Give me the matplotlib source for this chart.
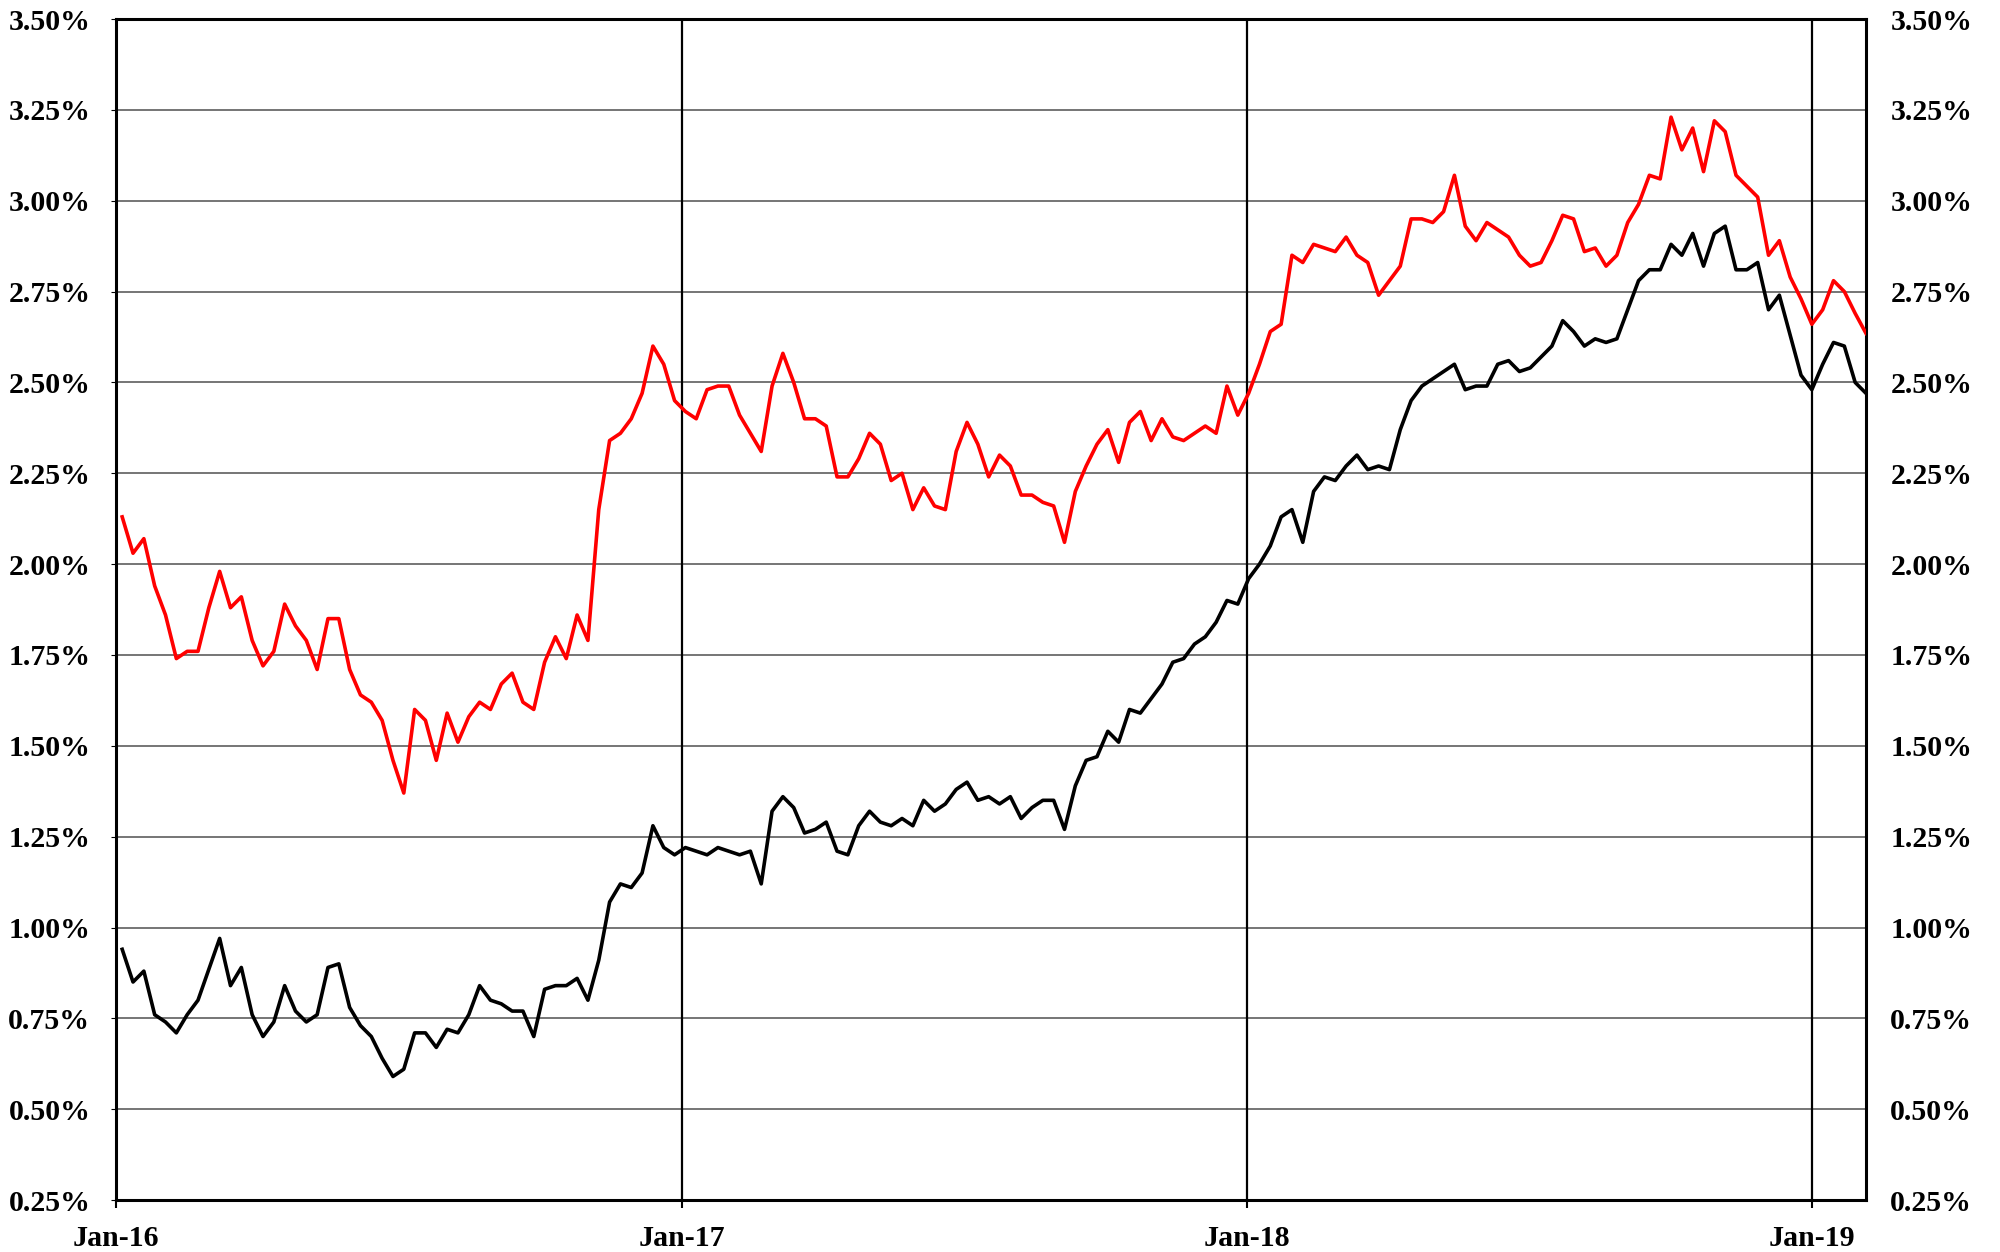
import numpy as np
import pandas as pd
import matplotlib
matplotlib.use("Agg")
import matplotlib.pyplot as plt
import matplotlib.dates as mdates

# weekly readings, first Tuesday of 2016 through early Feb 2019
start_date = "2016-01-05"

red_line = [2.13, 2.03, 2.07, 1.94, 1.86, 1.74, 1.76, 1.76, 1.88, 1.98,
            1.88, 1.91, 1.79, 1.72, 1.76, 1.89, 1.83, 1.79, 1.71, 1.85,
            1.85, 1.71, 1.64, 1.62, 1.57, 1.46, 1.37, 1.60, 1.57, 1.46,
            1.59, 1.51, 1.58, 1.62, 1.60, 1.67, 1.70, 1.62, 1.60, 1.73,
            1.80, 1.74, 1.86, 1.79, 2.15, 2.34, 2.36, 2.40, 2.47, 2.60,
            2.55, 2.45, 2.42, 2.40, 2.48, 2.49, 2.49, 2.41, 2.36, 2.31,
            2.49, 2.58, 2.50, 2.40, 2.40, 2.38, 2.24, 2.24, 2.29, 2.36,
            2.33, 2.23, 2.25, 2.15, 2.21, 2.16, 2.15, 2.31, 2.39, 2.33,
            2.24, 2.30, 2.27, 2.19, 2.19, 2.17, 2.16, 2.06, 2.20, 2.27,
            2.33, 2.37, 2.28, 2.39, 2.42, 2.34, 2.40, 2.35, 2.34, 2.36,
            2.38, 2.36, 2.49, 2.41, 2.47, 2.55, 2.64, 2.66, 2.85, 2.83,
            2.88, 2.87, 2.86, 2.90, 2.85, 2.83, 2.74, 2.78, 2.82, 2.95,
            2.95, 2.94, 2.97, 3.07, 2.93, 2.89, 2.94, 2.92, 2.90, 2.85,
            2.82, 2.83, 2.89, 2.96, 2.95, 2.86, 2.87, 2.82, 2.85, 2.94,
            2.99, 3.07, 3.06, 3.23, 3.14, 3.20, 3.08, 3.22, 3.19, 3.07,
            3.04, 3.01, 2.85, 2.89, 2.79, 2.73, 2.66, 2.70, 2.78, 2.75,
            2.69, 2.635]

black_line = [0.94, 0.85, 0.88, 0.76, 0.74, 0.71, 0.76, 0.80, 0.885, 0.97,
              0.84, 0.89, 0.76, 0.70, 0.74, 0.84, 0.77, 0.74, 0.76, 0.89,
              0.90, 0.78, 0.73, 0.70, 0.64, 0.59, 0.61, 0.71, 0.71, 0.67,
              0.72, 0.71, 0.76, 0.84, 0.80, 0.79, 0.77, 0.77, 0.70, 0.83,
              0.84, 0.84, 0.86, 0.80, 0.91, 1.07, 1.12, 1.11, 1.15, 1.28,
              1.22, 1.20, 1.22, 1.21, 1.20, 1.22, 1.21, 1.20, 1.21, 1.12,
              1.32, 1.36, 1.33, 1.26, 1.27, 1.29, 1.21, 1.20, 1.28, 1.32,
              1.29, 1.28, 1.30, 1.28, 1.35, 1.32, 1.34, 1.38, 1.40, 1.35,
              1.36, 1.34, 1.36, 1.30, 1.33, 1.35, 1.35, 1.27, 1.39, 1.46,
              1.47, 1.54, 1.51, 1.60, 1.59, 1.63, 1.67, 1.73, 1.74, 1.78,
              1.80, 1.84, 1.90, 1.89, 1.96, 2.00, 2.05, 2.13, 2.15, 2.06,
              2.20, 2.24, 2.23, 2.27, 2.30, 2.26, 2.27, 2.26, 2.37, 2.45,
              2.49, 2.51, 2.53, 2.55, 2.48, 2.49, 2.49, 2.55, 2.56, 2.53,
              2.54, 2.57, 2.60, 2.67, 2.64, 2.60, 2.62, 2.61, 2.62, 2.70,
              2.78, 2.81, 2.81, 2.88, 2.85, 2.91, 2.82, 2.91, 2.93, 2.81,
              2.81, 2.83, 2.70, 2.74, 2.63, 2.52, 2.48, 2.55, 2.61, 2.60,
              2.50, 2.47]

year_marks = ["2016-01-01", "2017-01-01", "2018-01-01", "2019-01-01"]
x_end = "2019-02-05"
y_ticks = np.arange(0.25, 3.51, 0.25)
y_labels = [f"{v:.2f}%" for v in y_ticks]

dates = pd.date_range(start_date, periods=len(red_line), freq="7D")

fig = plt.figure(figsize=(20, 12.52), dpi=100)
ax = fig.add_axes([0.058, 0.0415, 0.875, 0.9433])

# horizontal grid first, so the data lines sit on top
for v in y_ticks[1:-1]:
    ax.axhline(v, color="#505050", lw=1.1, zorder=1)
for d in year_marks[1:]:
    ax.axvline(pd.Timestamp(d), color="black", lw=1.6, zorder=2)

ax.plot(dates, red_line, color="#ff0000", lw=2.6, zorder=3)
ax.plot(dates, black_line, color="black", lw=2.6, zorder=3)

ax.set_xlim(pd.Timestamp(year_marks[0]), pd.Timestamp(x_end))
ax.set_ylim(0.25, 3.50)

label_font = {"family": "Liberation Serif", "weight": "bold", "size": 21.5}

ax.set_yticks(y_ticks)
ax.set_yticklabels(y_labels, fontdict=label_font)
ax.tick_params(axis="y", left=False, pad=15)

# right hand copy of the percentage scale
ax_r = ax.twinx()
ax_r.set_ylim(ax.get_ylim())
ax_r.set_yticks(y_ticks)
ax_r.set_yticklabels(y_labels, fontdict=label_font)
ax_r.tick_params(axis="y", right=False, pad=14)
for side in ax_r.spines:
    ax_r.spines[side].set_visible(False)

ax.set_xticks([pd.Timestamp(d) for d in year_marks])
ax.xaxis.set_major_formatter(mdates.DateFormatter("%b-%y"))
ax.tick_params(axis="x", length=6, width=1.5, color="black", pad=12)
for lab in ax.get_xticklabels():
    lab.set_fontfamily("Liberation Serif")
    lab.set_fontweight("bold")
    lab.set_fontsize(21.5)

for side in ["left", "right", "top", "bottom"]:
    ax.spines[side].set_linewidth(2.2)
    ax.spines[side].set_color("black")

fig.savefig("out.png", dpi=100)
